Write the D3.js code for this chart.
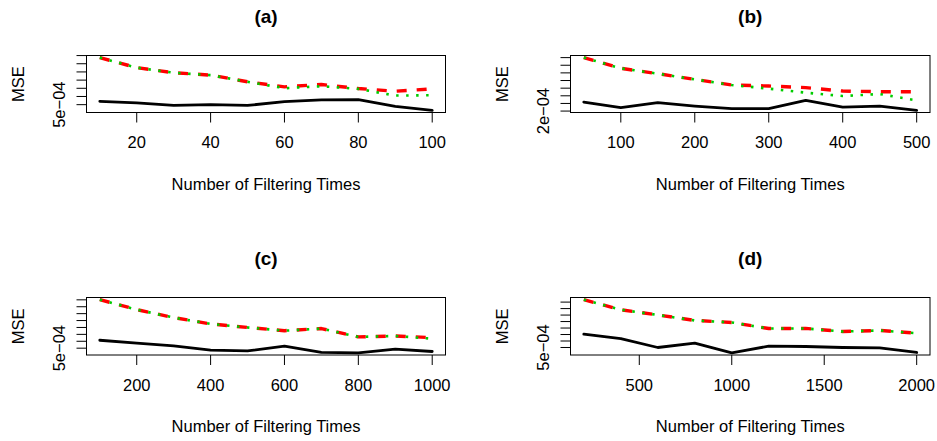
<!DOCTYPE html>
<html>
<head>
<meta charset="utf-8">
<script src="https://cdn.jsdelivr.net/npm/d3@7"></script>
<style>
  body { margin: 0; background: #fff; }
  svg { display: block; }
  text { font-family: "Liberation Sans", Arial, Helvetica, sans-serif; fill: #000; }
</style>
</head>
<body>
<svg id="fig" width="937" height="441"></svg>
<script>
// ---- text ----
const panelTitles = ["(a)", "(b)", "(c)", "(d)"];
const xAxisTitle = "Number of Filtering Times";
const yAxisTitle = "MSE";

// ---- panel (a) ----
const timesA = [10, 20, 30, 40, 50, 60, 70, 80, 90, 100];
const redA   = [0.001075, 0.000952, 0.000890, 0.000861, 0.000780, 0.000718, 0.000746, 0.000697, 0.000664, 0.000693];
const greenA = [0.001075, 0.000952, 0.000890, 0.000861, 0.000780, 0.000701, 0.000725, 0.000693, 0.000611, 0.000615];
const blackA = [0.000541, 0.000521, 0.000491, 0.000500, 0.000491, 0.000537, 0.000558, 0.000562, 0.000479, 0.000430];
const xTicksA = [20, 40, 60, 80, 100];
const yTicksA = [0.0005, 0.0006, 0.0007, 0.0008, 0.0009, 0.0010, 0.0011];
const yTickLabelsA = ["5e\u221204", "6e\u221204", "7e\u221204", "8e\u221204", "9e\u221204", "0.001", "0.0011"];

// ---- panel (b) ----
const timesB = [50, 100, 150, 200, 250, 300, 350, 400, 450, 500];
const redB   = [0.000900, 0.000760, 0.000690, 0.000615, 0.000541, 0.000528, 0.000507, 0.000462, 0.000454, 0.000454];
const greenB = [0.000900, 0.000760, 0.000690, 0.000615, 0.000541, 0.000494, 0.000441, 0.000397, 0.000423, 0.000340];
const blackB = [0.000318, 0.000245, 0.000310, 0.000266, 0.000231, 0.000231, 0.000340, 0.000252, 0.000266, 0.000209];
const xTicksB = [100, 200, 300, 400, 500];
const yTicksB = [0.0002, 0.0003, 0.0004, 0.0005, 0.0006, 0.0007, 0.0008, 0.0009];
const yTickLabelsB = ["2e\u221204", "3e\u221204", "4e\u221204", "5e\u221204", "6e\u221204", "7e\u221204", "8e\u221204", "9e\u221204"];

// ---- panel (c) ----
const timesC = [100, 200, 300, 400, 500, 600, 700, 800, 900, 1000];
const redC   = [0.001203, 0.001058, 0.000943, 0.000851, 0.000800, 0.000753, 0.000784, 0.000663, 0.000677, 0.000652];
const greenC = [0.001203, 0.001058, 0.000943, 0.000851, 0.000800, 0.000753, 0.000784, 0.000663, 0.000677, 0.000637];
const blackC = [0.000615, 0.000572, 0.000533, 0.000471, 0.000461, 0.000529, 0.000438, 0.000432, 0.000486, 0.000452];
const xTicksC = [200, 400, 600, 800, 1000];
const yTicksC = [0.0005, 0.0006, 0.0007, 0.0008, 0.0009, 0.0010, 0.0011, 0.0012];
const yTickLabelsC = ["5e\u221204", "6e\u221204", "7e\u221204", "8e\u221204", "9e\u221204", "0.001", "0.0011", "0.0012"];

// ---- panel (d) ----
const timesD = [200, 400, 600, 800, 1000, 1200, 1400, 1600, 1800, 2000];
const redD   = [0.001238, 0.001082, 0.001002, 0.000917, 0.000886, 0.000792, 0.000794, 0.000746, 0.000763, 0.000720];
const greenD = [0.001238, 0.001082, 0.001002, 0.000917, 0.000886, 0.000792, 0.000794, 0.000746, 0.000763, 0.000720];
const blackD = [0.000705, 0.000638, 0.000500, 0.000566, 0.000417, 0.000520, 0.000515, 0.000500, 0.000494, 0.000423];
const xTicksD = [500, 1000, 1500, 2000];
const yTicksD = [0.0005, 0.0006, 0.0007, 0.0008, 0.0009, 0.0010, 0.0011, 0.0012];
const yTickLabelsD = ["5e\u221204", "6e\u221204", "7e\u221204", "8e\u221204", "9e\u221204", "0.001", "0.0011", "0.0012"];

// ---- layout: plot regions of the 2x2 grid ----
const regions = [
  { x0: 86.5,  x1: 445.5, y0: 55.5,  y1: 112.5 },
  { x0: 570.5, x1: 930,   y0: 55.5,  y1: 112.5 },
  { x0: 86.5,  x1: 445.5, y0: 297.5, y1: 355 },
  { x0: 570.5, x1: 930,   y0: 297.5, y1: 355 }
];

const panels = [
  { title: panelTitles[0], x: timesA, red: redA, green: greenA, black: blackA, xTicks: xTicksA, yTicks: yTicksA, yLabels: yTickLabelsA },
  { title: panelTitles[1], x: timesB, red: redB, green: greenB, black: blackB, xTicks: xTicksB, yTicks: yTicksB, yLabels: yTickLabelsB },
  { title: panelTitles[2], x: timesC, red: redC, green: greenC, black: blackC, xTicks: xTicksC, yTicks: yTicksC, yLabels: yTickLabelsC },
  { title: panelTitles[3], x: timesD, red: redD, green: greenD, black: blackD, xTicks: xTicksD, yTicks: yTicksD, yLabels: yTickLabelsD }
];

const FONT = 16.5;
const TICK = 10;
const svg = d3.select("#fig");

// pad a range by 4% on each side, as base graphics does
function padded(ext) {
  const r = ext[1] - ext[0];
  return [ext[0] - 0.04 * r, ext[1] + 0.04 * r];
}

// drop labels that would collide with the previously kept one
function thinLabels(sel, gap) {
  let lastEnd = -Infinity;
  sel.each(function (d) {
    const w = this.getComputedTextLength();
    const c = d.pos;
    const lo = c - w / 2, hi = c + w / 2;
    if (lo < lastEnd + gap) { d3.select(this).remove(); }
    else { lastEnd = hi; }
  });
}

panels.forEach((p, i) => {
  const R = regions[i];
  const g = svg.append("g");

  const x = d3.scaleLinear().domain(padded(d3.extent(p.x))).range([R.x0, R.x1]);
  const allY = p.red.concat(p.green, p.black);
  const y = d3.scaleLinear().domain(padded(d3.extent(allY))).range([R.y1, R.y0]);

  // series lines
  const line = vals => d3.line().x((d, j) => x(p.x[j])).y(d => y(d))(vals);

  g.append("path").attr("d", line(p.black))
    .attr("fill", "none").attr("stroke", "#000").attr("stroke-width", 2.8)
    .attr("stroke-linejoin", "round").attr("stroke-linecap", "round");
  g.append("path").attr("d", line(p.red))
    .attr("fill", "none").attr("stroke", "#FF0000").attr("stroke-width", 3.4)
    .attr("stroke-dasharray", "10,10").attr("stroke-linejoin", "round");
  g.append("path").attr("d", line(p.green))
    .attr("fill", "none").attr("stroke", "#00CD00").attr("stroke-width", 2.6)
    .attr("stroke-dasharray", "2.5,7.5");

  // frame
  g.append("rect")
    .attr("x", R.x0).attr("y", R.y0)
    .attr("width", R.x1 - R.x0).attr("height", R.y1 - R.y0)
    .attr("fill", "none").attr("stroke", "#000").attr("stroke-width", 1);

  // x axis
  const xAxis = g.append("g");
  xAxis.selectAll("line").data(p.xTicks).join("line")
    .attr("x1", d => x(d)).attr("x2", d => x(d))
    .attr("y1", R.y1).attr("y2", R.y1 + TICK)
    .attr("stroke", "#000").attr("stroke-width", 1);
  const xl = xAxis.selectAll("text").data(p.xTicks.map(v => ({ v, pos: x(v) }))).join("text")
    .attr("x", d => d.pos).attr("y", R.y1 + 35.5)
    .attr("text-anchor", "middle").attr("font-size", FONT)
    .text(d => String(d.v));
  thinLabels(xl, 4);

  // y axis
  const yAxis = g.append("g");
  yAxis.selectAll("line").data(p.yTicks).join("line")
    .attr("x1", R.x0 - TICK).attr("x2", R.x0)
    .attr("y1", d => y(d)).attr("y2", d => y(d))
    .attr("stroke", "#000").attr("stroke-width", 1);
  // labels along the axis, read bottom to top; position measured upward
  const yl = yAxis.selectAll("text")
    .data(p.yTicks.map((v, j) => ({ v, label: p.yLabels[j], pos: -y(v) }))).join("text")
    .attr("transform", d => `translate(${R.x0 - 22},${y(d.v)}) rotate(-90)`)
    .attr("text-anchor", "middle").attr("font-size", FONT)
    .text(d => d.label);
  thinLabels(yl, FONT * 0.833);

  // titles
  g.append("text")
    .attr("x", (R.x0 + R.x1) / 2).attr("y", R.y0 - 33)
    .attr("text-anchor", "middle").attr("font-size", 19).attr("font-weight", "bold")
    .text(p.title);
  g.append("text")
    .attr("x", (R.x0 + R.x1) / 2).attr("y", R.y1 + 77)
    .attr("text-anchor", "middle").attr("font-size", FONT)
    .text(xAxisTitle);
  g.append("text")
    .attr("transform", `translate(${R.x0 - 63},${(R.y0 + R.y1) / 2}) rotate(-90)`)
    .attr("text-anchor", "middle").attr("font-size", FONT)
    .text(yAxisTitle);
});
</script>
</body>
</html>
